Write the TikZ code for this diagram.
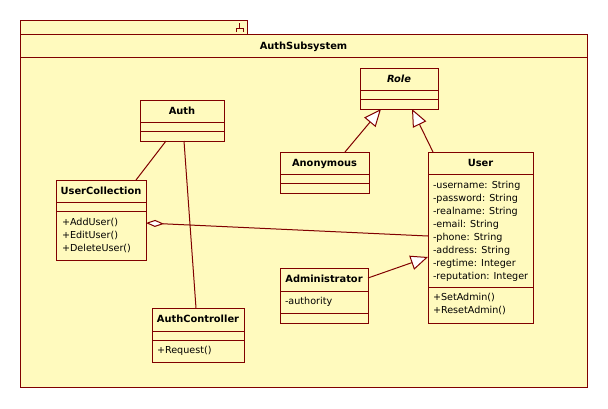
\documentclass[tikz,border=0pt]{standalone}
\usepackage{fontspec}
\setmainfont{DejaVu Sans}
\usetikzlibrary{arrows.meta}
\definecolor{umlfill}{RGB}{255,250,190}
\definecolor{umlline}{RGB}{128,0,0}

\begin{document}
\begin{tikzpicture}[
		x=0.75pt, y=-0.75pt,
		every node/.style={font=\fontsize{7.2pt}{9.75pt}\selectfont, inner sep=0pt, outer sep=0pt},
		box/.style={draw=umlline, fill=umlfill, line width=0.75pt, anchor=north west},
		sep/.style={draw=umlline, line width=0.75pt},
		title/.style={font=\fontsize{7.4pt}{9.75pt}\selectfont\bfseries, text depth=0pt},
		members/.style={anchor=north west, align=left},
		link/.style={draw=umlline, line width=0.75pt},
		isa/.style={link, -{Triangle[length=13pt, width=11pt, fill=white]}},
		owns/.style={link, {Diamond[length=13.5pt, width=5.25pt, fill=white]}-}
		]
		\useasboundingbox (0,0) rectangle (608,408);
		% package
		\node[box, minimum width=170.25pt, minimum height=10.5pt] (tab) at (20,20) {};
		\node[box, minimum width=425.25pt, minimum height=264.75pt] (pkg) at (20,34) {};
		\draw[sep] (pkg.west |- 0,57) -- (pkg.east |- 0,57);
		\node[title] (pkgT) at (pkg.north |- 0,45.5) {AuthSubsystem};
		\draw[sep] (239,23) -- (239,28) (236,32) -- (236,28) -- (243,28) -- (243,32);
		% classes
		\node[box, minimum width=58.5pt, minimum height=30.75pt] (role) at (360,68) {};
		\draw[sep] (role.west |- 0,90) -- (role.east |- 0,90) (role.west |- 0,99) -- (role.east |- 0,99);
		\node[title] (roleT) at (role.north |- 0,79) {\itshape Role};
		
		\node[box, minimum width=63pt, minimum height=30.75pt] (auth) at (140,100) {};
		\draw[sep] (auth.west |- 0,122) -- (auth.east |- 0,122) (auth.west |- 0,131.5) -- (auth.east |- 0,131.5);
		\node[title] (authT) at (auth.north |- 0,111) {Auth};
		
		\node[box, minimum width=67.5pt, minimum height=60pt] (usercoll) at (56,180) {};
		\draw[sep] (usercoll.west |- 0,202) -- (usercoll.east |- 0,202) (usercoll.west |- 0,211) -- (usercoll.east |- 0,211);
		\node[title] (usercollT) at (usercoll.north |- 0,191) {UserCollection};
		\node[members] (usercollO) at (62,218) {+AddUser()\\+EditUser()\\+DeleteUser()};
		
		\node[box, minimum width=66.75pt, minimum height=30.75pt] (anon) at (280,152) {};
		\draw[sep] (anon.west |- 0,174) -- (anon.east |- 0,174) (anon.west |- 0,183) -- (anon.east |- 0,183);
		\node[title] (anonT) at (anon.north |- 0,163) {Anonymous};
		
		\node[box, minimum width=78.75pt, minimum height=128.25pt] (user) at (428,152) {};
		\draw[sep] (user.west |- 0,174) -- (user.east |- 0,174) (user.west |- 0,287) -- (user.east |- 0,287);
		\node[title] (userT) at (user.north |- 0,163) {User};
		\node[members] (userA) at (433,181) {-username: String\\-password: String\\-realname: String\\-email: String\\-phone: String\\-address: String\\-regtime: Integer\\-reputation: Integer};
		\node[members] (userO) at (433,293) {+SetAdmin()\\+ResetAdmin()};
		
		\node[box, minimum width=66pt, minimum height=41.25pt] (admin) at (280,268) {};
		\draw[sep] (admin.west |- 0,291) -- (admin.east |- 0,291) (admin.west |- 0,313) -- (admin.east |- 0,313);
		\node[title] (adminT) at (admin.north |- 0,279) {Administrator};
		\node[members] (adminA) at (285,297) {-authority};
		
		\node[box, minimum width=69pt, minimum height=40.5pt] (authctrl) at (152,308) {};
		\draw[sep] (authctrl.west |- 0,331) -- (authctrl.east |- 0,331) (authctrl.west |- 0,340) -- (authctrl.east |- 0,340);
		\node[title] (authctrlT) at (authctrl.north |- 0,319) {AuthController};
		\node[members] (authctrlO) at (157,346) {+Request()};
		% relations
		\draw[link] (auth.south -| 166,0) -- (usercoll.north -| 136,0);
		\draw[link] (auth.south -| 184,0) -- (authctrl.north -| 196,0);
		\draw[owns] (usercoll.east |- 0,223) -- (user.west |- 0,236);
		\draw[isa] (anon.north -| 345,0) -- (role.south -| 381,0);
		\draw[isa] (user.north -| 433,0) -- (role.south -| 412,0);
		\draw[isa] (admin.east |- 0,278) -- (user.west |- 0,257);
		\end{tikzpicture}
\end{document}
